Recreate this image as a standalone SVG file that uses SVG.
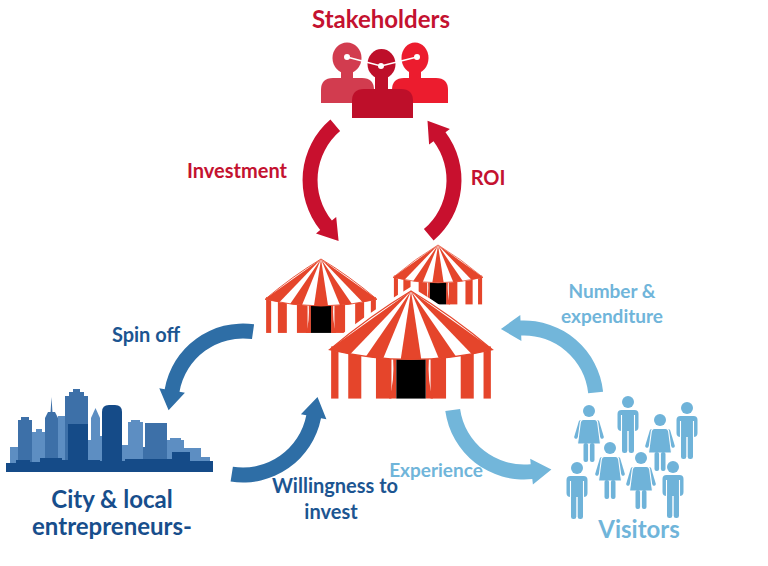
<svg xmlns="http://www.w3.org/2000/svg" xmlns:xlink="http://www.w3.org/1999/xlink" width="768" height="566" viewBox="0 0 768 566">
<style>
  text { font-family: Lato, "Open Sans", "Liberation Sans", sans-serif; font-weight: bold; }
  .red { fill: #c41230; }
  .dblue { fill: #1c5591; }
  .lblue { fill: #70b5da; }
  .tr { fill: #e5452b; }
  .vis { fill: #6fb3d9; }
  .lt { fill: #5d8ec2; }
  .md { fill: #3d70a8; }
  .dk { fill: #154b88; }
</style>
<defs>
  <clipPath id="roofClip">
    <path d="M0,0 Q-25,15 -50,36 Q0,48 50,36 Q25,15 0,0 Z"/>
  </clipPath>
  <g id="tent">
    <path d="M0,-1.5 Q-26,14 -51.5,35 L-51.5,67 L51.5,67 L51.5,35 Q26,14 0,-1.5 Z" fill="#fff" stroke="#fff" stroke-width="2"/>
    <rect x="-49" y="34" width="98" height="32" fill="#fff"/>
    <rect class="tr" x="-49" y="34" width="4.5" height="32"/>
    <rect class="tr" x="-38.5" y="34" width="8" height="32"/>
    <rect class="tr" x="-21.5" y="34" width="9.5" height="32"/>
    <rect class="tr" x="44.5" y="34" width="4.5" height="32"/>
    <rect class="tr" x="30.5" y="34" width="8" height="32"/>
    <rect class="tr" x="12" y="34" width="9.5" height="32"/>
    <path class="tr" d="M-9,40 L-11,40 Q-10,56 -13.5,66 L-9,66 Z"/>
    <path class="tr" d="M9,40 L11,40 Q10,56 13.5,66 L9,66 Z"/>
    <rect x="-9" y="40" width="18" height="26" fill="#000"/>
    <path d="M0,0 Q-25,15 -50,36 Q0,48 50,36 Q25,15 0,0 Z" fill="#fff"/>
    <g clip-path="url(#roofClip)" class="tr">
      <path d="M0,0 L-7.5,50 L7.5,50 Z"/>
      <path d="M0,0 L20.6,50 L34.4,50 Z"/>
      <path d="M0,0 L-20.6,50 L-34.4,50 Z"/>
      <path d="M0,0 L48.1,50 L70,50 Z"/>
      <path d="M0,0 L-48.1,50 L-70,50 Z"/>
    </g>
    <path d="M0,0 Q-25,15 -50,36 Q0,48 50,36 Q25,15 0,0 Z" fill="none" stroke="#e5452b" stroke-width="0.8"/>
  </g>
  <g id="man">
    <circle cx="0" cy="0" r="6"/>
    <rect x="-10.5" y="8" width="21" height="21" rx="4"/>
    <rect x="-6" y="26" width="5.3" height="25" rx="2.3"/>
    <rect x="0.7" y="26" width="5.3" height="25" rx="2.3"/>
    <path d="M-6.5,13 V29 M6.5,13 V29" stroke="#fff" stroke-width="1.1"/>
  </g>
  <g id="woman">
    <circle cx="0" cy="0" r="6"/>
    <path d="M-8.5,11 L-13,26" stroke="#6fb3d9" stroke-width="3.6" stroke-linecap="round"/>
    <path d="M8.5,11 L13,26" stroke="#6fb3d9" stroke-width="3.6" stroke-linecap="round"/>
    <path d="M-5.5,8.5 L5.5,8.5 Q8,8.5 8.6,11 L11.5,33 L-11.5,33 L-8.6,11 Q-8,8.5 -5.5,8.5 Z" stroke="#fff" stroke-width="1.1"/>
    <rect x="-5.5" y="32" width="4.6" height="19" rx="2"/>
    <rect x="0.9" y="32" width="4.6" height="19" rx="2"/>
  </g>
</defs>

<rect width="768" height="566" fill="#fff"/>

<g id="connectors">
  <path id="arrow-investment" fill="#c8102e" d="M330.4,119.6 A79.5,79.5 0 0 0 320.2,230.0 L316.0,233.5 L338.6,240.9 L336.2,217.1 L331.9,220.6 A64.5,64.5 0 0 1 340.1,131.0 Z"/>
  <path id="arrow-roi" fill="#c8102e" d="M433.6,240.5 A79.5,79.5 0 0 0 445.5,132.2 L449.9,128.9 L427.5,120.7 L429.1,144.5 L433.5,141.2 A64.5,64.5 0 0 1 423.9,229.1 Z"/>
  <path id="arrow-spinoff" fill="#2e6ea6" d="M254.1,324.3 A79.5,79.5 0 0 0 164.7,389.2 L159.3,388.2 L168.6,410.2 L184.9,392.8 L179.5,391.8 A64.5,64.5 0 0 1 252.0,339.1 Z"/>
  <path id="arrow-willingness" fill="#2e6ea6" d="M230.6,481.5 A79.5,79.5 0 0 0 321.0,418.2 L326.4,419.2 L317.5,397.1 L300.9,414.3 L306.3,415.3 A64.5,64.5 0 0 1 232.9,466.7 Z"/>
  <path id="arrow-number" fill="#72b6da" d="M603.1,391.7 A79.5,79.5 0 0 0 520.5,320.6 L520.3,315.1 L500.9,328.9 L521.4,341.1 L521.2,335.6 A64.5,64.5 0 0 1 588.2,393.3 Z"/>
  <path id="arrow-experience" fill="#72b6da" d="M445.3,411.1 A79.5,79.5 0 0 0 532.3,479.1 L532.9,484.5 L551.4,469.5 L530.2,458.7 L530.7,464.2 A64.5,64.5 0 0 1 460.1,409.0 Z"/>
</g>

<g id="labels">
  <text class="red" x="237" y="178" font-size="20" text-anchor="middle">Investment</text>
  <text class="red" x="488" y="185" font-size="20" text-anchor="middle">ROI</text>
  <text class="dblue" x="146" y="342" font-size="20" text-anchor="middle">Spin off</text>
  <text class="dblue" x="335" y="493" font-size="20" text-anchor="middle">Willingness to</text>
  <text class="dblue" x="331" y="519" font-size="20" text-anchor="middle">invest</text>
  <text class="lblue" x="612" y="298" font-size="19" text-anchor="middle">Number &amp;</text>
  <text class="lblue" x="612" y="323" font-size="19" text-anchor="middle">expenditure</text>
  <text class="lblue" x="436" y="477" font-size="19" text-anchor="middle">Experience</text>
</g>

<g id="stakeholders">
  <text class="red" x="381" y="28" font-size="24" text-anchor="middle">Stakeholders</text>
  <g fill="#d23c4f">
    <ellipse cx="347" cy="58" rx="14.5" ry="15.5"/>
    <rect x="341" y="68" width="12" height="12"/>
    <path d="M321,103 V90 Q321,78 333,78 H362 Q374,78 374,90 V103 Z"/>
  </g>
  <g fill="#ec1c2e">
    <ellipse cx="415" cy="58" rx="13.5" ry="15.5"/>
    <rect x="409" y="68" width="12" height="12"/>
    <path d="M392,103 V90 Q392,78 404,78 H436 Q448,78 448,90 V103 Z"/>
  </g>
  <g fill="#be0f2a">
    <ellipse cx="381.5" cy="64" rx="14" ry="15"/>
    <rect x="375" y="74" width="13" height="16"/>
    <path d="M352,118 V101 Q352,89 364,89 H401 Q413,89 413,101 V118 Z"/>
  </g>
  <path d="M347,57 L381,66 L417,57" fill="none" stroke="#fff" stroke-width="1.5"/>
  <circle cx="347" cy="57" r="3" fill="#fff"/>
  <circle cx="381" cy="66" r="3" fill="#fff"/>
  <circle cx="417" cy="57" r="3" fill="#fff"/>
</g>

<g id="event">
  <use xlink:href="#tent" href="#tent" transform="translate(321,259) scale(1.12)"/>
  <use xlink:href="#tent" href="#tent" transform="translate(438,245) scale(0.9)"/>
  <use xlink:href="#tent" href="#tent" transform="translate(411,291) scale(1.63)"/>
</g>

<g id="city">
  <rect class="lt" x="10" y="447" width="10" height="20"/>
  <path class="md" d="M18,467 V420 H21 V417 H29 V420 H32 V467 Z"/>
  <path class="lt" d="M32,467 V432 H36 V429 H42 V432 H46 V467 Z"/>
  <path class="md" d="M45,467 V418 L48,412 H55 L58,418 V467 Z"/>
  <path class="md" d="M50.5,413 L51.5,397 L52.5,413 Z"/>
  <rect class="lt" x="58" y="416" width="8" height="51"/>
  <path class="md" d="M65,467 V396 H69 V392 H73 V389 H80 V392 H84 V396 H88 V467 Z"/>
  <rect class="lt" x="87" y="440" width="6" height="27"/>
  <path class="lt" d="M91,467 V418 L95.5,408 L100,418 V467 Z"/>
  <rect class="lt" x="99" y="436" width="5" height="31"/>
  <path class="dk" d="M102,467 V412 Q102,405 109,405 H115 Q122,405 122,412 V467 Z"/>
  <rect class="lt" x="122" y="445" width="7" height="22"/>
  <path class="lt" d="M128,467 V422 H131 V420 H140 V422 H143 V467 Z"/>
  <rect class="md" x="143" y="447" width="4" height="20"/>
  <rect class="md" x="145" y="423" width="22" height="44"/>
  <path class="lt" d="M167,467 V440 H170 V438 H181 V440 H184 V467 Z"/>
  <rect class="lt" x="183" y="448" width="18" height="19"/>
  <rect class="lt" x="200" y="457" width="10" height="10"/>
  <rect class="dk" x="68" y="424" width="20" height="43"/>
  <rect class="dk" x="172" y="452" width="18" height="15"/>
  <rect class="dk" x="40" y="458" width="22" height="9"/>
  <rect class="dk" x="125" y="459" width="47" height="8"/>
  <path class="dk" d="M6,472 V463 H16 V460 H30 V462 H62 V460 H100 V461 H140 V460 H190 V461 H213 V472 Z"/>
  <text x="112" y="508" font-size="24" text-anchor="middle" fill="#174e8c">City &amp; local</text>
  <text x="112" y="535" font-size="24" text-anchor="middle" fill="#174e8c">entrepreneurs-</text>
</g>

<g id="visitors" class="vis">
  <use xlink:href="#woman" href="#woman" x="589" y="411"/>
  <use xlink:href="#man" href="#man" x="628" y="402"/>
  <use xlink:href="#woman" href="#woman" x="660" y="420"/>
  <use xlink:href="#man" href="#man" x="687" y="408"/>
  <use xlink:href="#man" href="#man" x="577" y="468"/>
  <use xlink:href="#woman" href="#woman" x="610" y="448"/>
  <use xlink:href="#woman" href="#woman" x="641" y="458"/>
  <use xlink:href="#man" href="#man" x="673" y="467"/>
  <text class="lblue" x="639" y="538" font-size="24" text-anchor="middle">Visitors</text>
</g>
</svg>
